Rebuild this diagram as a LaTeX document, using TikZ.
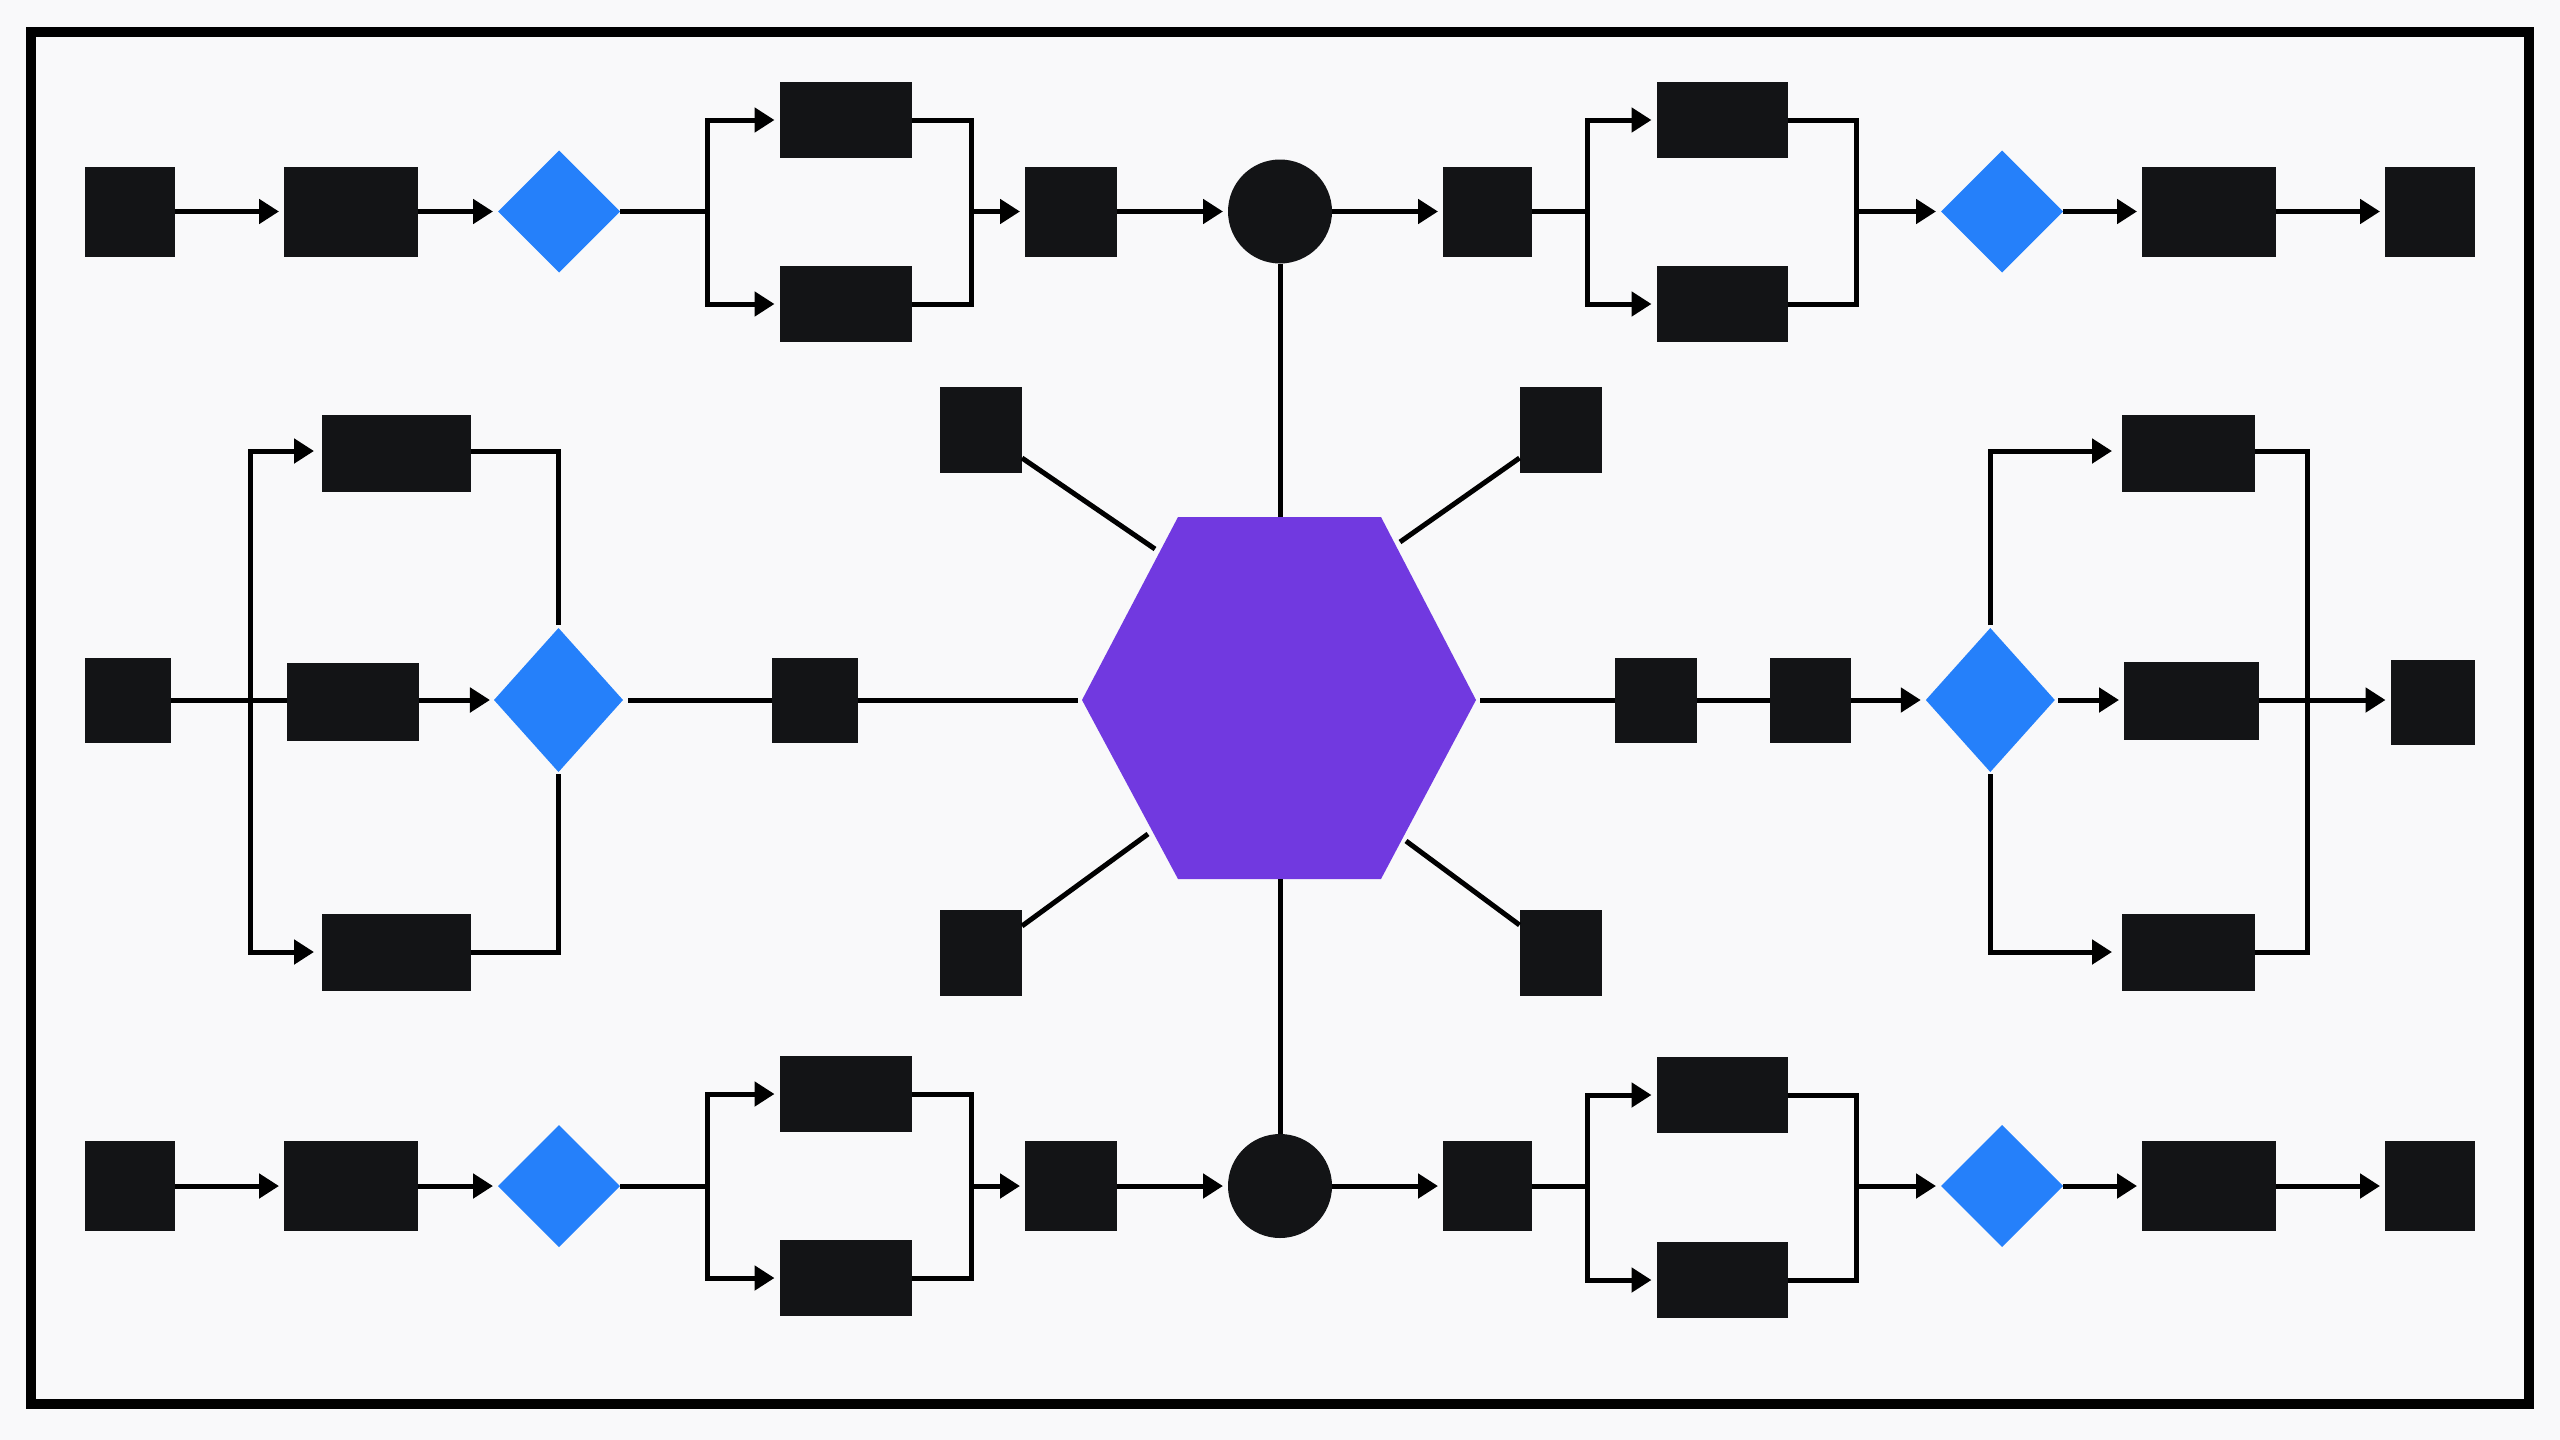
\documentclass[tikz,border=0pt]{standalone}
\usepackage{tikz}
\usetikzlibrary{arrows.meta,shapes.geometric}

\definecolor{pagecol}{RGB}{249,249,250}
\definecolor{blockcol}{RGB}{19,20,22}
\definecolor{gatecol}{RGB}{37,128,250}
\definecolor{hubcol}{RGB}{113,57,224}

\tikzset{
  block/.style={rectangle,fill=blockcol,inner sep=0pt,outer sep=0pt},
  wide/.style={block,minimum width=67pt,minimum height=45pt},
  square/.style={block,minimum width=45pt,minimum height=45pt},
  arm/.style={block,minimum width=66pt,minimum height=38pt},
  tall/.style={block,minimum width=43pt,minimum height=42.5pt},
  sat/.style={block,minimum width=41pt,minimum height=43pt},
  gate/.style={diamond,fill=gatecol,inner sep=0pt,outer sep=0pt,minimum width=61pt,minimum height=61pt},
  biggate/.style={gate,minimum width=64.5pt,minimum height=72pt},
  dot/.style={circle,fill=blockcol,inner sep=0pt,outer sep=0pt,minimum size=52pt},
  wire/.style={line width=2.5pt,draw=black},
  arr/.style={wire,-{Triangle[length=10pt,width=12pt]},shorten >=2.5pt},
}

\begin{document}
\begin{tikzpicture}[x=0.5pt,y=0.5pt,yscale=-1,xscale=1]
\useasboundingbox (0,0) rectangle (2560,1440);

%Page
\fill[pagecol] (0,0) rectangle (2560,1440);
\draw[line width=5pt,draw=black] (31,32) rectangle (2529,1404);

%Hub
\coordinate (hubW) at (1082,700);
\coordinate (hubNW) at (1178,517);
\coordinate (hubN) at (1280,517);
\coordinate (hubNE) at (1381,517);
\coordinate (hubE) at (1476,700);
\coordinate (hubSE) at (1381,879);
\coordinate (hubS) at (1280,879);
\coordinate (hubSW) at (1178,879);
\fill[hubcol] (hubW) -- (hubNW) -- (hubNE) -- (hubE) -- (hubSE) -- (hubSW) -- cycle;

%Spoke ends
\coordinate (spokeNW) at (1155,549);
\coordinate (spokeNE) at (1400,542);
\coordinate (spokeSW) at (1148,834);
\coordinate (spokeSE) at (1406,841);
\coordinate (spokeW) at (1078,700);
\coordinate (spokeE) at (1480,700);

%Satellites
\node[sat] (satNW) at (981,430) {};
\node[sat] (satNE) at (1560.5,430) {};
\node[sat] (satSW) at (981,953) {};
\node[sat] (satSE) at (1560.5,953) {};
\draw[wire] (satNW.east) ++(0,28) coordinate (satNWa) (satNWa) -- (spokeNW);
\draw[wire] (satNE.west) ++(0,28) coordinate (satNEa) (satNEa) -- (spokeNE);
\draw[wire] (satSW.east) ++(0,-27) coordinate (satSWa) (satSWa) -- (spokeSW);
\draw[wire] (satSE.west) ++(0,-28) coordinate (satSEa) (satSEa) -- (spokeSE);

%Top row
\node[square] (tA) at (130,211.5) {};
\node[wide] (tB) at (351,211.5) {};
\node[gate] (tC) at (559,211.5) {};
\node[arm] (tD) at (845.5,120) {};
\node[arm] (tE) at (845.5,304) {};
\node[square,minimum width=46pt] (tF) at (1071,211.5) {};
\node[dot] (tG) at (1280,211.5) {};
\node[square,minimum width=44.5pt] (tH) at (1487.5,211.5) {};
\node[arm,minimum width=65.5pt] (tI) at (1722,120) {};
\node[arm,minimum width=65.5pt] (tJ) at (1722,304) {};
\node[gate] (tK) at (2002,211.5) {};
\node[wide] (tL) at (2209,211.5) {};
\node[square] (tM) at (2430,211.5) {};
\coordinate (brA) at (707,211.5);
\coordinate (jnA) at (971,211.5);
\coordinate (brB) at (1587,211.5);
\coordinate (jnB) at (1856,211.5);

\draw[arr] (tA) -- (tB);
\draw[arr] (tB) -- (tC);
\draw[wire] (tC) -- (brA);
\draw[arr] (brA) |- (tD);
\draw[arr] (brA) |- (tE);
\draw[wire] (tD) -| (jnA);
\draw[wire] (tE) -| (jnA);
\draw[arr] (jnA) -- (tF);
\draw[arr] (tF) -- (tG);
\draw[arr] (tG) -- (tH);
\draw[wire] (tH) -- (brB);
\draw[arr] (brB) |- (tI);
\draw[arr] (brB) |- (tJ);
\draw[wire] (tI) -| (jnB);
\draw[wire] (tJ) -| (jnB);
\draw[arr] (jnB) -- (tK);
\draw[arr] (tK) -- (tL);
\draw[arr] (tL) -- (tM);
\draw[wire] (tG) -- (hubN);

%Bottom row
\node[square] (bA) at (130,1186) {};
\node[wide] (bB) at (351,1186) {};
\node[gate] (bC) at (559,1186) {};
\node[arm] (bD) at (845.5,1094) {};
\node[arm] (bE) at (845.5,1278) {};
\node[square,minimum width=46pt] (bF) at (1071,1186) {};
\node[dot] (bG) at (1280,1186) {};
\node[square,minimum width=44.5pt] (bH) at (1487.5,1186) {};
\node[arm,minimum width=65.5pt] (bI) at (1722,1095) {};
\node[arm,minimum width=65.5pt] (bJ) at (1722,1280) {};
\node[gate] (bK) at (2002,1186) {};
\node[wide] (bL) at (2209,1186) {};
\node[square] (bM) at (2430,1186) {};
\coordinate (brC) at (707,1186);
\coordinate (jnC) at (971,1186);
\coordinate (brD) at (1587,1186);
\coordinate (jnD) at (1856,1186);

\draw[arr] (bA) -- (bB);
\draw[arr] (bB) -- (bC);
\draw[wire] (bC) -- (brC);
\draw[arr] (brC) |- (bD);
\draw[arr] (brC) |- (bE);
\draw[wire] (bD) -| (jnC);
\draw[wire] (bE) -| (jnC);
\draw[arr] (jnC) -- (bF);
\draw[arr] (bF) -- (bG);
\draw[arr] (bG) -- (bH);
\draw[wire] (bH) -- (brD);
\draw[arr] (brD) |- (bI);
\draw[arr] (brD) |- (bJ);
\draw[wire] (bI) -| (jnD);
\draw[wire] (bJ) -| (jnD);
\draw[arr] (jnD) -- (bK);
\draw[arr] (bK) -- (bL);
\draw[arr] (bL) -- (bM);
\draw[wire] (bG) -- (hubS);

%Left group
\node[tall] (lA) at (127.5,700) {};
\node[block,minimum width=66pt,minimum height=39pt] (lB) at (353,702) {};
\node[block,minimum width=74.3pt,minimum height=38.5pt] (lT) at (396.3,453.5) {};
\node[block,minimum width=74.3pt,minimum height=38.5pt] (lD) at (396.3,952.5) {};
\node[biggate] (lG) at (558.5,700) {};
\node[tall] (lH) at (814.5,700) {};
\coordinate (brE) at (250,700);
\coordinate (lTa) at (322,451);
\coordinate (lDa) at (322,952);
\coordinate (lGn) at (558,625);
\coordinate (lGs) at (558,774);
\coordinate (lGe) at (628,700);

\draw[wire] (lA) -- (lB.west |- lA);
\draw[arr,shorten >=4pt] (brE) |- (lTa);
\draw[arr,shorten >=4pt] (brE) |- (lDa);
\draw[arr,shorten >=2pt] (lB.east |- lG) -- (lG);
\draw[wire] (lT.east |- lTa) -| (lGn);
\draw[wire] (lD.east |- lDa) -| (lGs);
\draw[wire] (lGe) -- (lH);
\draw[wire] (lH) -- (spokeW);

%Right group
\node[tall,minimum width=41pt] (rA) at (1655.5,700) {};
\node[tall,minimum width=40.5pt] (rB) at (1810.5,700) {};
\node[biggate] (rG) at (1990.3,700) {};
\node[block,minimum width=66.7pt,minimum height=38.5pt] (rT) at (2188.7,453.5) {};
\node[block,minimum width=67.5pt,minimum height=39pt] (rM) at (2191.5,701) {};
\node[block,minimum width=66.7pt,minimum height=38.5pt] (rD) at (2188.7,952.5) {};
\node[tall,minimum width=42pt] (rE) at (2432.5,702) {};
\coordinate (rTa) at (2122,451);
\coordinate (rDa) at (2122,952);
\coordinate (rGn) at (1990.5,625);
\coordinate (rGs) at (1990.5,774);
\coordinate (rGe) at (2058,700);
\coordinate (jnE) at (2307.5,700);

\draw[wire] (spokeE) -- (rA);
\draw[wire] (rA) -- (rB);
\draw[arr] (rB) -- (rG);
\draw[arr,shorten >=5pt] (rGn) |- (rTa);
\draw[arr,shorten >=5pt] (rGs) |- (rDa);
\draw[arr] (rGe) -- (rM.west |- rGe);
\draw[wire] (rT.east |- rTa) -| (jnE);
\draw[wire] (rD.east |- rDa) -| (jnE);
\draw[arr] (rM.east |- rGe) -- (rE.west |- rGe);

\end{tikzpicture}
\end{document}
